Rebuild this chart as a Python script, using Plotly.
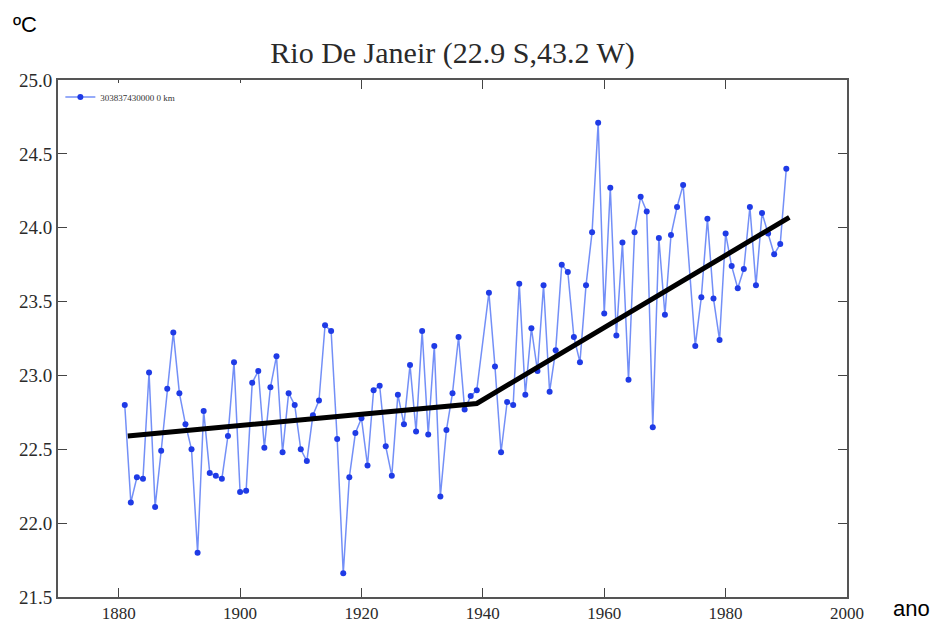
import plotly.graph_objects as go

# Annual mean temperature, Rio de Janeiro station (°C); 1940 and 1974 absent
years = [
    1881, 1882, 1883, 1884, 1885, 1886, 1887, 1888, 1889, 1890,
    1891, 1892, 1893, 1894, 1895, 1896, 1897, 1898, 1899, 1900,
    1901, 1902, 1903, 1904, 1905, 1906, 1907, 1908, 1909, 1910,
    1911, 1912, 1913, 1914, 1915, 1916, 1917, 1918, 1919, 1920,
    1921, 1922, 1923, 1924, 1925, 1926, 1927, 1928, 1929, 1930,
    1931, 1932, 1933, 1934, 1935, 1936, 1937, 1938, 1939,
    1941, 1942, 1943, 1944, 1945, 1946, 1947, 1948, 1949, 1950,
    1951, 1952, 1953, 1954, 1955, 1956, 1957, 1958, 1959, 1960,
    1961, 1962, 1963, 1964, 1965, 1966, 1967, 1968, 1969, 1970,
    1971, 1972, 1973, 1975, 1976, 1977, 1978, 1979, 1980,
    1981, 1982, 1983, 1984, 1985, 1986, 1987, 1988, 1989, 1990,
]
temps = [
    22.80, 22.14, 22.31, 22.30, 23.02, 22.11, 22.49, 22.91, 23.29, 22.88,
    22.67, 22.50, 21.80, 22.76, 22.34, 22.32, 22.30, 22.59, 23.09, 22.21,
    22.22, 22.95, 23.03, 22.51, 22.92, 23.13, 22.48, 22.88, 22.80, 22.50,
    22.42, 22.73, 22.83, 23.34, 23.30, 22.57, 21.66, 22.31, 22.61, 22.71,
    22.39, 22.90, 22.93, 22.52, 22.32, 22.87, 22.67, 23.07, 22.62, 23.30,
    22.60, 23.20, 22.18, 22.63, 22.88, 23.26, 22.77, 22.86, 22.90,
    23.56, 23.06, 22.48, 22.82, 22.80, 23.62, 22.87, 23.32, 23.03, 23.61,
    22.89, 23.17, 23.75, 23.70, 23.26, 23.09, 23.61, 23.97, 24.71, 23.42,
    24.27, 23.27, 23.90, 22.97, 23.97, 24.21, 24.11, 22.65, 23.93, 23.41,
    23.95, 24.14, 24.29, 23.20, 23.53, 24.06, 23.52, 23.24, 23.96,
    23.74, 23.59, 23.72, 24.14, 23.61, 24.10, 23.96, 23.82, 23.89, 24.40,
]

# Two-segment trend line (break point near 1939)
trend_years = [1881.5, 1939.0, 1990.5]
trend_temps = [22.59, 22.81, 24.07]

station_label = "303837430000 0 km"
title_text = "Rio De Janeir (22.9 S,43.2 W)"
x_ticks = [1880, 1900, 1920, 1940, 1960, 1980, 2000]
y_ticks = [21.5, 22.0, 22.5, 23.0, 23.5, 24.0, 24.5, 25.0]

W, H = 944, 635
ML, MR, MT, MB = 58, 97, 80, 30
PW, PH = W - ML - MR, H - MT - MB

fig = go.Figure()

fig.add_trace(go.Scatter(
    x=years, y=temps, mode="lines+markers", name=station_label,
    line=dict(color="rgba(80,115,245,0.8)", width=1.5),
    marker=dict(color="#1f3be6", size=6),
    showlegend=True,
))

fig.add_trace(go.Scatter(
    x=trend_years, y=trend_temps, mode="lines",
    line=dict(color="black", width=5),
    showlegend=False,
))

serif = "Liberation Serif, Times New Roman, serif"
sans = "Liberation Sans, Arial, sans-serif"

axis_common = dict(
    showline=True, linecolor="#555", linewidth=2, mirror="ticks",
    ticks="inside", ticklen=9, tickwidth=1.2, tickcolor="#444",
    showgrid=False, zeroline=False,
)

fig.update_layout(
    width=W, height=H,
    margin=dict(l=ML, r=MR, t=MT, b=MB),
    paper_bgcolor="white", plot_bgcolor="white",
    title=dict(
        text=title_text, x=0.5, xref="paper", xanchor="center",
        y=1 - 52 / H, yref="container", yanchor="middle",
        font=dict(family=serif, size=30, color="#2a2a2a"),
    ),
    xaxis=dict(range=[1870, 2000], tickvals=x_ticks,
               tickfont=dict(family=serif, size=17, color="#2a2a2a"),
               **axis_common),
    yaxis=dict(range=[21.5, 25.0], tickvals=y_ticks, tickformat=".1f",
               tickfont=dict(family=serif, size=19, color="#2a2a2a"),
               **axis_common),
    legend=dict(
        x=0.003, y=0.995, xanchor="left", yanchor="top",
        orientation="h", entrywidth=230,
        bgcolor="white", borderwidth=0,
        font=dict(family=serif, size=9, color="#333"),
        itemwidth=30,
    ),
    annotations=[
        dict(text="ºC", xref="paper", yref="paper",
             x=(11 - ML) / PW, y=(H - MB - 24) / PH,
             xanchor="left", yanchor="middle", showarrow=False,
             font=dict(family=sans, size=22, color="black")),
        dict(text="ano", xref="paper", yref="paper",
             x=(891 - ML) / PW, y=(H - MB - 617) / PH,
             xanchor="left", yanchor="middle", showarrow=False,
             font=dict(family=sans, size=22, color="black")),
    ],
)

fig.write_html("out.html")
